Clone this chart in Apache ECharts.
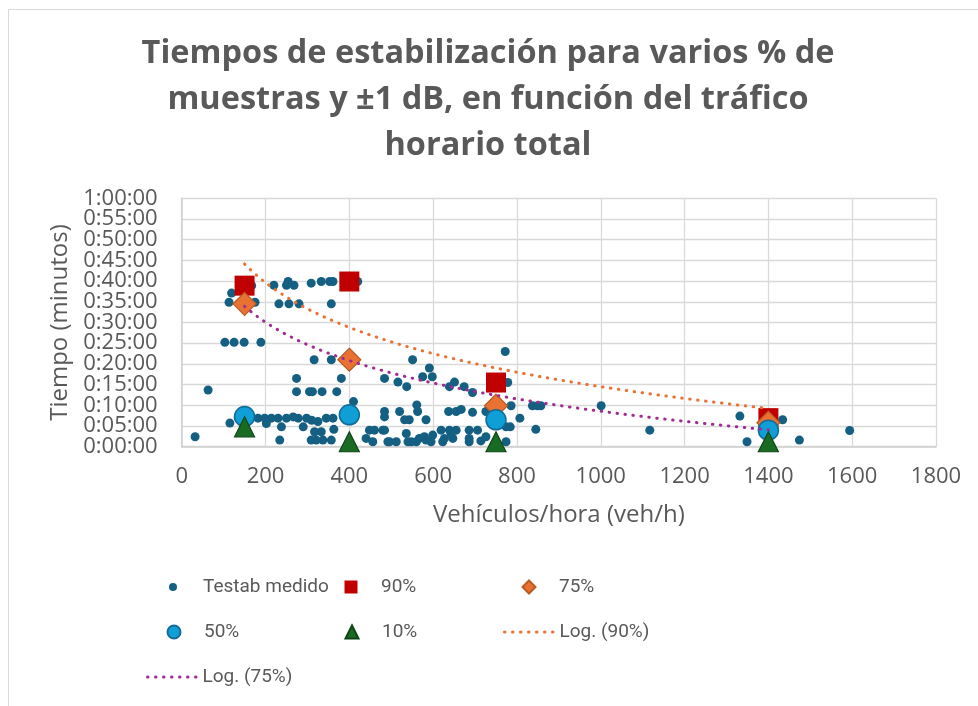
<!DOCTYPE html>
<html>
<head>
<meta charset="utf-8">
<script src="https://cdn.jsdelivr.net/npm/echarts@6/dist/echarts.min.js"></script>
<style>html,body{margin:0;padding:0;background:#fff}#c{width:978px;height:706px}</style>
</head>
<body>
<div id="c"></div>
<script>
// Measured points: x = vehicles/hour, y = minutes
const testX = [119,113,175,167,220,254,250,268,309,333,353,361,420,232,256,280,357,103,125,149,189,
  63,32,316,357,274,381,274,305,312,335,370,410,551,484,516,537,575,591,598,639,651,674,694,772,778,786,837,849,857,1001,
  115,135,182,198,214,230,250,266,278,298,310,325,345,361,202,238,290,317,333,363,234,309,321,337,357,
  484,484,520,532,543,561,563,583,637,655,667,694,726,
  440,448,456,460,480,484,492,496,512,536,540,548,560,567,579,583,595,599,619,623,627,639,643,647,655,686,686,686,706,714,726,774,784,774,807,845,1117,
  1332,1349,1434,1474,1594];
const testY = [37.1,34.9,34.9,38.9,39.0,39.9,39.0,39.0,39.5,39.9,39.9,39.9,39.9,34.5,34.5,34.5,34.5,25.2,25.2,25.2,25.2,
  13.7,2.4,21.0,21.0,16.5,16.5,13.3,13.3,13.3,13.3,13.3,10.9,21.0,16.5,15.6,14.5,16.9,19.0,16.9,14.5,15.6,14.5,13.1,23.0,15.5,9.9,9.9,9.9,9.9,9.9,
  5.7,7.0,6.9,6.9,6.9,6.9,6.9,7.2,6.9,6.9,6.4,6.1,6.9,6.9,5.6,4.8,4.8,3.6,3.6,4.2,1.6,1.6,1.6,1.6,1.6,
  8.5,7.2,8.5,6.5,6.5,10.1,8.5,6.5,8.5,8.5,9.0,8.3,8.5,
  2.0,4.0,1.2,4.0,4.0,4.0,1.2,1.2,1.2,3.2,1.2,1.2,1.2,2.0,2.4,1.6,1.2,2.8,4.0,1.2,2.0,4.0,3.2,2.0,4.0,4.0,2.0,1.2,4.0,1.4,2.4,4.8,4.8,1.2,6.9,4.2,4.0,
  7.4,1.2,6.5,1.6,3.9];

const pctX = [150, 400, 750, 1400];
const y90 = [38.9, 39.9, 15.5, 6.9];
const y75 = [34.5, 21.0, 9.9, 5.8];
const y50 = [7.3, 7.7, 6.5, 4.0];
const y10 = [4.8, 1.2, 1.2, 1.2];

const xTicks = {min: 0, max: 1800, step: 200};
const yTicks = {min: 0, max: 60, step: 5};

const seriesNames = ['Testab medido', '90%', '75%', '50%', '10%', 'Log. (90%)', 'Log. (75%)'];

function pairs(xs, ys) { return xs.map((x, i) => [x, ys[i]]); }

// Excel-style logarithmic trendline (least squares on ln x)
function logTrend(xs, ys) {
  const n = xs.length;
  const lx = xs.map(Math.log);
  const mx = lx.reduce((a, b) => a + b, 0) / n;
  const my = ys.reduce((a, b) => a + b, 0) / n;
  let sxy = 0, sxx = 0;
  for (let i = 0; i < n; i++) { sxy += (lx[i] - mx) * (ys[i] - my); sxx += (lx[i] - mx) * (lx[i] - mx); }
  const a = sxy / sxx, b = my - a * mx;
  const x0 = Math.min(...xs), x1 = Math.max(...xs);
  const out = [];
  const N = 120;
  for (let k = 0; k <= N; k++) { const x = x0 + (x1 - x0) * k / N; out.push([x, a * Math.log(x) + b]); }
  return out;
}

function fmtTime(v) {
  const totalSec = Math.round(v * 60);
  const h = Math.floor(totalSec / 3600);
  const m = Math.floor((totalSec % 3600) / 60);
  const s = totalSec % 60;
  return h + ':' + String(m).padStart(2, '0') + ':' + String(s).padStart(2, '0');
}

const TXT = '#595959';
const FONT = "'Open Sans', sans-serif";
const NARROW = "'Liberation Sans Narrow', 'Roboto', sans-serif";

const chart = echarts.init(document.getElementById('c'), null, {renderer: 'canvas'});

const legendBase = {
  orient: 'horizontal', padding: 0, itemWidth: 50, selectedMode: false,
  textStyle: {color: TXT, fontFamily: NARROW, fontSize: 19, lineHeight: 24}
};
// symbol icons leave empty space to their left, so shift the legend box by (50-h)/2
function lg(name, left, centerY, h, icon, isMarker) {
  const d = {name: name};
  if (icon) d.icon = icon;
  const l = isMarker ? left + (50 - h) / 2 : left;
  return Object.assign({}, legendBase, {data: [d], left: l, top: centerY - 12, itemHeight: h});
}
const SQ = 'path://M0,0L10,0L10,10L0,10Z';
const DIA = 'path://M5,0L10,5L5,10L0,5Z';
const TRI = 'path://M5,0L10,10L0,10Z';
const dotted = {width: 3, type: [0.5, 7.5], cap: 'round'};
const yLabelStyle = {color: TXT, fontFamily: FONT, fontSize: 22, margin: 24, formatter: fmtTime};

chart.setOption({
  animation: false,
  backgroundColor: '#fff',
  title: {
    text: 'Tiempos de estabilización para varios % de\nmuestras y ±1 dB, en función del tráfico\nhorario total',
    left: 483, top: 26, textAlign: 'center',
    textStyle: {color: TXT, fontFamily: FONT, fontWeight: 'bold', fontSize: 32.5, lineHeight: 46}
  },
  graphic: [{type: 'rect', shape: {x: 8.5, y: 9.5, width: 1000, height: 1000}, style: {fill: 'none', stroke: '#d9d9d9', lineWidth: 1}, silent: true, z: -10}],
  grid: {left: 181.7, right: 42, top: 198.3, bottom: 259.3},
  xAxis: {
    type: 'value', min: xTicks.min, max: xTicks.max, interval: xTicks.step,
    name: 'Vehículos/hora (veh/h)', nameLocation: 'middle', nameGap: 56,
    nameTextStyle: {color: TXT, fontFamily: FONT, fontSize: 24},
    axisLine: {show: true, lineStyle: {color: '#d0d0d0', width: 1.5}},
    axisTick: {show: false},
    axisLabel: {color: TXT, fontFamily: FONT, fontSize: 22, margin: 19, showMinLabel: true, showMaxLabel: true,
      formatter: v => String(v)},
    splitLine: {show: true, lineStyle: {color: '#d9d9d9', width: 1.3}}
  },
  yAxis: [{
    type: 'value', min: yTicks.min, max: yTicks.max, interval: yTicks.step,
    name: 'Tiempo (minutos)', nameLocation: 'middle', nameGap: 106,
    nameTextStyle: {color: TXT, fontFamily: FONT, fontSize: 24},
    axisLine: {show: true, lineStyle: {color: '#d0d0d0', width: 1.5}},
    axisTick: {show: false},
    axisLabel: Object.assign({showMinLabel: false, showMaxLabel: false}, yLabelStyle),
    splitLine: {show: true, lineStyle: {color: '#d9d9d9', width: 1.3}}
  }, {
    // same scale, carries only the end labels (0:00:00 and 1:00:00)
    type: 'value', position: 'left', min: yTicks.min, max: yTicks.max, interval: yTicks.max - yTicks.min,
    axisLine: {show: false}, axisTick: {show: false}, splitLine: {show: false},
    axisLabel: Object.assign({showMinLabel: true, showMaxLabel: true}, yLabelStyle)
  }],
  legend: [
    lg(seriesNames[0], 148, 587, 8, 'circle', true),
    lg(seriesNames[1], 326, 587, 13, SQ, true),
    lg(seriesNames[2], 503, 587, 13, DIA, true),
    lg(seriesNames[3], 148, 632, 13, 'circle', true),
    lg(seriesNames[4], 326, 632, 13, TRI, true),
    Object.assign(lg(seriesNames[5], 503, 632, 6), {itemStyle: {opacity: 0}, lineStyle: dotted}),
    Object.assign(lg(seriesNames[6], 146, 677, 6), {itemStyle: {opacity: 0}, lineStyle: dotted})
  ],
  series: [
    {name: seriesNames[0], type: 'scatter', data: pairs(testX, testY), symbol: 'circle', symbolSize: 9,
      itemStyle: {color: '#156082', opacity: 1}, z: 2},
    {name: seriesNames[1], type: 'scatter', data: pairs(pctX, y90), symbol: 'rect', symbolSize: 20,
      itemStyle: {color: '#C00000', opacity: 1}, z: 3},
    {name: seriesNames[2], type: 'scatter', data: pairs(pctX, y75), symbol: 'diamond', symbolSize: 23,
      itemStyle: {color: '#E97132', borderColor: '#B95A20', borderWidth: 1.2, opacity: 1}, z: 4},
    {name: seriesNames[3], type: 'scatter', data: pairs(pctX, y50), symbol: 'circle', symbolSize: 20,
      itemStyle: {color: '#0F9ED5', borderColor: '#136C97', borderWidth: 1.5, opacity: 1}, z: 5},
    {name: seriesNames[4], type: 'scatter', data: pairs(pctX, y10), symbol: 'triangle', symbolSize: 20,
      itemStyle: {color: '#196B24', borderColor: '#0E4516', borderWidth: 1.2, opacity: 1}, z: 6},
    {name: seriesNames[5], type: 'line', data: logTrend(pctX, y90), showSymbol: false, symbol: 'none',
      itemStyle: {color: '#E97132'},
      lineStyle: Object.assign({color: '#E97132'}, dotted), z: 7},
    {name: seriesNames[6], type: 'line', data: logTrend(pctX, y75), showSymbol: false, symbol: 'none',
      itemStyle: {color: '#A02B93'},
      lineStyle: Object.assign({color: '#A02B93'}, dotted), z: 7}
  ]
});
</script>
</body>
</html>
